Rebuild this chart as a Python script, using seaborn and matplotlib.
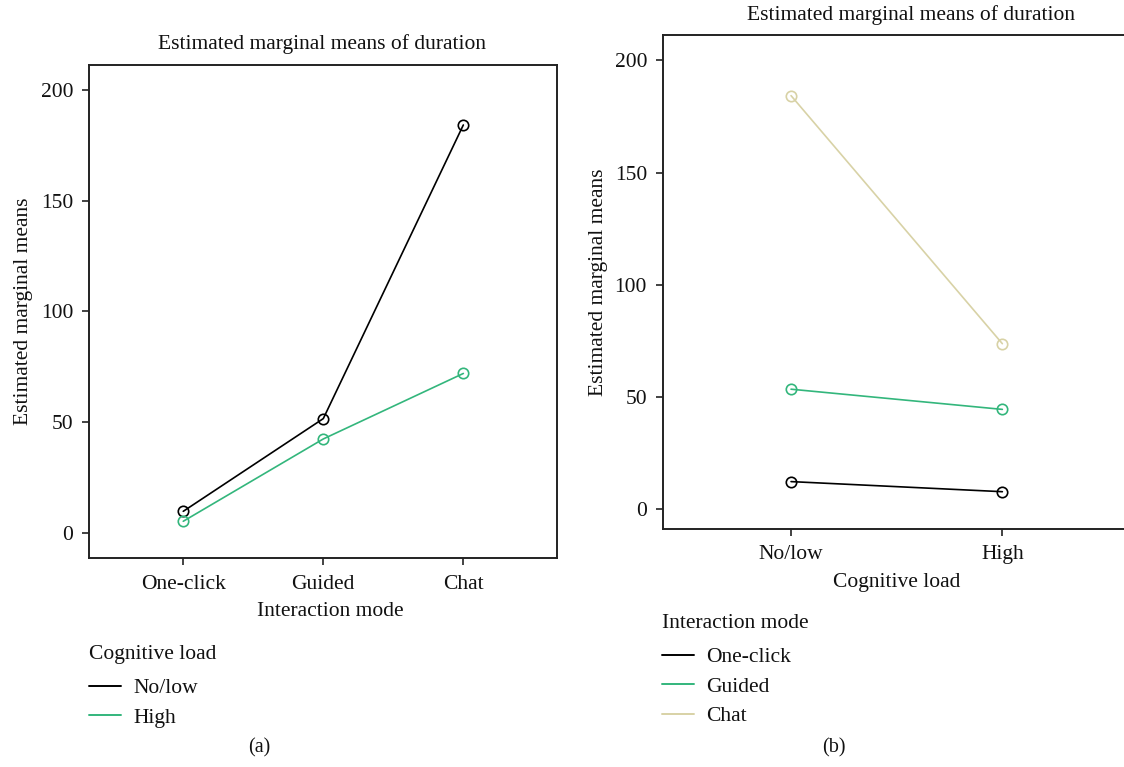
import matplotlib
matplotlib.use("Agg")
import matplotlib.pyplot as plt
import seaborn as sns
import pandas as pd
from matplotlib.lines import Line2D

# ---- data ----
modes = ["One-click", "Guided", "Chat"]
loads = ["No/low", "High"]
# panel (a): means by interaction mode, one series per cognitive load
a_nolow = [9.7, 51.6, 184.3]
a_high = [5.2, 42.4, 72.0]
# panel (b): means by cognitive load, one series per interaction mode
b_oneclick = [12.2, 7.7]
b_guided = [53.4, 44.4]
b_chat = [184.3, 73.7]

title_text = "Estimated marginal means of duration"
ylabel_text = "Estimated marginal means"

C_BLACK = "#000000"
C_GREEN = "#33b67c"
C_BEIGE = "#d8d2a6"

df_a = pd.DataFrame({
    "mode": modes * 2,
    "load": [loads[0]] * 3 + [loads[1]] * 3,
    "mean": a_nolow + a_high,
})
df_b = pd.DataFrame({
    "load": loads * 3,
    "mode": [modes[0]] * 2 + [modes[1]] * 2 + [modes[2]] * 2,
    "mean": b_oneclick + b_guided + b_chat,
})
df_a["x"] = df_a["mode"].map({m: i for i, m in enumerate(modes)})
df_b["x"] = df_b["load"].map({m: i for i, m in enumerate(loads)})

sns.set_theme(style="white")
plt.rcParams["font.family"] = ["Liberation Serif", "DejaVu Serif"]
plt.rcParams["axes.edgecolor"] = "#222222"

FS = 15.5
W, H = 1124, 767
fig = plt.figure(figsize=(W / 100, H / 100), dpi=100)

def rect(l, t, r, b):
    return [l / W, 1 - b / H, (r - l) / W, (b - t) / H]

axA = fig.add_axes(rect(89.3, 65, 557.3, 558))
axB = fig.add_axes(rect(663, 35.3, 1153, 528.7))

pal_a = {loads[0]: C_BLACK, loads[1]: C_GREEN}
pal_b = {modes[0]: C_BLACK, modes[1]: C_GREEN, modes[2]: C_BEIGE}

sns.lineplot(data=df_a, x="x", y="mean", hue="load", hue_order=loads,
             palette=pal_a, marker="o", markersize=7.5, linewidth=1.2,
             legend=False, ax=axA, sort=False)
sns.lineplot(data=df_b, x="x", y="mean", hue="mode", hue_order=modes,
             palette=pal_b, marker="o", markersize=7.5, linewidth=1.2,
             legend=False, ax=axB, sort=False)

for ax in (axA, axB):
    for ln in ax.lines:
        c = ln.get_color()
        ln.set_markerfacecolor("none")
        ln.set_markeredgecolor(c)
        ln.set_markeredgewidth(1.2)
    for s in ax.spines.values():
        s.set_linewidth(1.4)
        s.set_color("#222222")
    ax.tick_params(axis="both", which="major", direction="out", length=5,
                   width=1.2, color="#222222", labelsize=FS,
                   left=True, bottom=True, labelcolor="#111111")
    ax.tick_params(axis="y", pad=6.5)
    ax.tick_params(axis="x", pad=7)
    ax.set_yticks([0, 50, 100, 150, 200])
    ax.set_xlabel("")
    ax.set_ylabel("")
    ax.grid(False)

axA.set_xticks(range(len(modes)))
axA.set_xticklabels(modes)
axA.set_xlim(-0.671, 2.671)
axA.set_ylim(-11.4, 211.4)

axB.set_xticks(range(len(loads)))
axB.set_xticklabels(loads)
axB.set_xlim(-0.606, 1.713)
axB.set_ylim(-8.8, 211.2)

def ftext(x, y, s, **kw):
    kw.setdefault("fontsize", FS)
    kw.setdefault("color", "#111111")
    fig.text(x / W, 1 - y / H, s, **kw)

ftext(322, 44, title_text, ha="center", va="center", fontsize=15.5)
ftext(911, 15, title_text, ha="center", va="center", fontsize=15.5)
ftext(24, 311, ylabel_text, ha="center", va="center", rotation=90)
ftext(598, 282, ylabel_text, ha="center", va="center", rotation=90)
ftext(330, 612, "Interaction mode", ha="center", va="center")
ftext(897, 583, "Cognitive load", ha="center", va="center")
ftext(259, 748, "(a)", ha="center", va="center", fontsize=14.5)
ftext(834, 748, "(b)", ha="center", va="center", fontsize=14.5)

def make_legend(labels, colors, title, x, ytitle, yfirst):
    ftext(x, ytitle, title, ha="left", va="center")
    handles = [Line2D([0], [0], color=c, lw=1.4) for c in colors]
    leg = fig.legend(handles, labels, loc="upper left",
                     bbox_to_anchor=(x / W, 1 - (yfirst - 8) / H),
                     frameon=False, fontsize=FS, borderpad=0,
                     borderaxespad=0, handlelength=1.5, handletextpad=0.55,
                     labelspacing=0.44)
    for t in leg.get_texts():
        t.set_color("#111111")
    return leg

make_legend(loads, [C_BLACK, C_GREEN], "Cognitive load", 89, 654, 686)
make_legend(modes, [C_BLACK, C_GREEN, C_BEIGE], "Interaction mode", 662, 623, 655)

fig.savefig("out.png", dpi=100)
